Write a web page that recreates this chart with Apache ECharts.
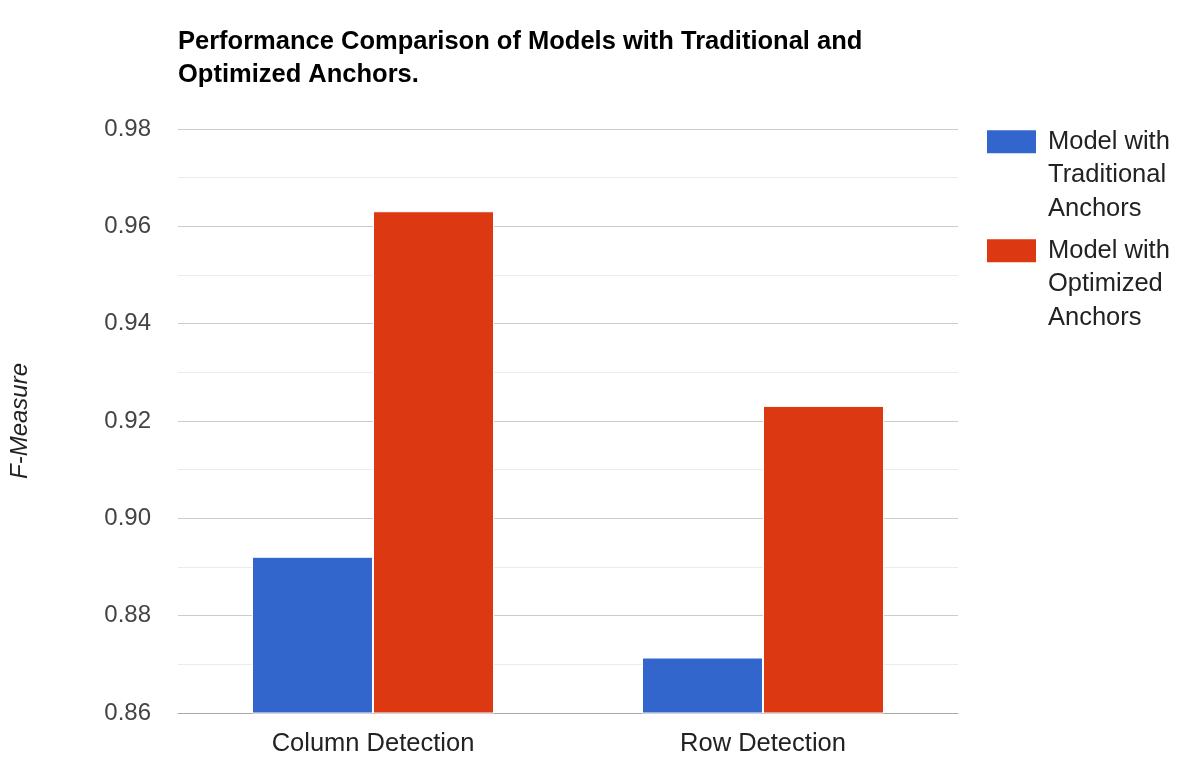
<!DOCTYPE html>
<html>
<head>
<meta charset="utf-8">
<script src="https://cdn.jsdelivr.net/npm/echarts@6/dist/echarts.min.js"></script>
<style>
  html, body { margin: 0; padding: 0; background: #fff; }
  #chart { width: 1196px; height: 776px; }
</style>
</head>
<body>
<div id="chart"></div>
<script>
// 数据
var categories = ['Column Detection', 'Row Detection'];
var traditional = [0.8921, 0.8714];
var optimized = [0.9631, 0.9231];
var seriesNames = ['Model with Traditional Anchors', 'Model with Optimized Anchors'];
// 前面加两个空行, 让第一行与图标居中对齐
var legendLabels = {
    'Model with Traditional Anchors': '\n\nModel with\nTraditional\nAnchors',
    'Model with Optimized Anchors': '\n\nModel with\nOptimized\nAnchors'
};

var font = 'Liberation Sans, Arial, sans-serif';

var legendText = {
    fontFamily: font,
    fontSize: 25.5,
    color: '#222',
    lineHeight: 33.5,
    padding: [0, 0, 0, 6]
};

function makeLegend(name, top) {
    return {
        data: [name],
        orient: 'vertical',
        left: 985,
        top: top,
        padding: 0,
        icon: 'rect',
        itemWidth: 51,
        itemHeight: 25,
        selectedMode: false,
        formatter: function (n) { return legendLabels[n]; },
        textStyle: legendText
    };
}

var option = {
    animation: false,
    title: {
        text: 'Performance Comparison of Models with Traditional and\nOptimized Anchors.',
        left: 173,
        top: 20,
        textStyle: {fontFamily: font, fontSize: 25.5, fontWeight: 'bold', color: '#000', lineHeight: 33}
    },
    legend: [makeLegend(seriesNames[0], 58), makeLegend(seriesNames[1], 167)],
    grid: {left: 178, right: 238, top: 129, bottom: 63},
    xAxis: {
        type: 'category',
        data: categories,
        axisTick: {show: false},
        axisLine: {lineStyle: {color: '#aaa', width: 1}},
        axisLabel: {fontFamily: font, fontSize: 25.5, color: '#222', margin: 18}
    },
    yAxis: {
        type: 'value',
        min: 0.86,
        max: 0.98,
        interval: 0.02,
        name: 'F-Measure',
        nameLocation: 'middle',
        nameRotate: 90,
        nameGap: 146,
        nameTextStyle: {fontFamily: font, fontSize: 24, fontStyle: 'italic', color: '#222'},
        axisLabel: {
            fontFamily: font, fontSize: 24, color: '#444', margin: 27,
            formatter: function (v) { return v.toFixed(2); }
        },
        splitLine: {lineStyle: {color: '#ccc', width: 1}},
        minorTick: {show: false, splitNumber: 2},
        minorSplitLine: {show: true, lineStyle: {color: '#ebebeb', width: 1}}
    },
    series: [{
        name: seriesNames[0],
        type: 'bar',
        data: traditional,
        barWidth: 121,
        barGap: '0%',
        itemStyle: {color: '#3366cc', borderColor: '#fff', borderWidth: 1}
    }, {
        name: seriesNames[1],
        type: 'bar',
        data: optimized,
        barWidth: 121,
        itemStyle: {color: '#dc3912', borderColor: '#fff', borderWidth: 1}
    }]
};

var chart = echarts.init(document.getElementById('chart'));
chart.setOption(option);

window.onresize = function () {
    chart.resize();
};
</script>
</body>
</html>
